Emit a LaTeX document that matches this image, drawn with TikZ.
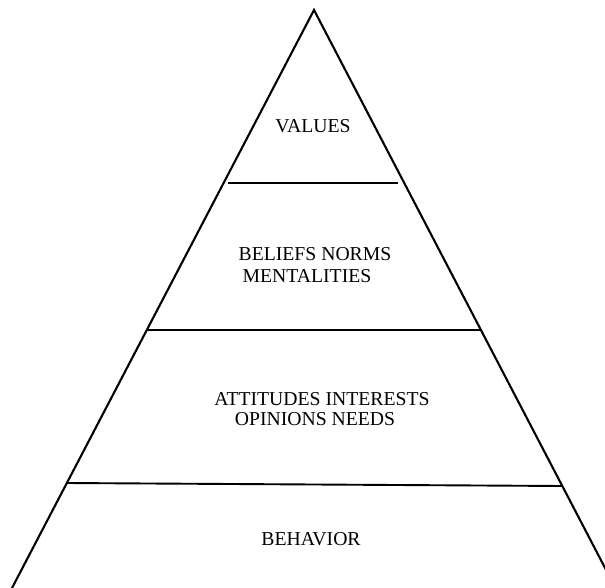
\documentclass[tikz,border=0pt]{standalone}
\usepackage{fontspec}
\setmainfont{Liberation Serif}
\begin{document}
\begin{tikzpicture}[x=1pt,y=-1pt,
  edge/.style={line width=2.1pt,line join=miter},
  level/.style={line width=1.9pt},
  lbl/.style={font=\fontsize{19.7}{22}\selectfont,anchor=base,inner sep=0pt}]
\useasboundingbox (0,0) rectangle (605,588);
\clip (0,0) rectangle (605,588);
\fill[white] (0,0) rectangle (605,588);
% triangle
\coordinate (apex) at (314,10);
\coordinate (bl) at (12,588);
\coordinate (br) at (615.5,588);
\draw[edge] (bl) -- (apex) -- (br);
% level lines
\coordinate (l1a) at (228,183);
\coordinate (l1b) at (398,183);
\coordinate (l2a) at (147,330);
\coordinate (l2b) at (480,330);
\coordinate (l3a) at (66,483);
\coordinate (l3b) at (562,486);
\draw[level] (l1a) -- (l1b);
\draw[level] (l2a) -- (l2b);
\draw[level] (l3a) -- (l3b);
% labels
\node[lbl] (values) at (313,133) {VALUES};
\node[lbl] (beliefs) at (315,260) {BELIEFS NORMS};
\node[lbl] (mentalities) at (307,282) {MENTALITIES};
\node[lbl] (attitudes) at (322,405) {ATTITUDES INTERESTS};
\node[lbl] (opinions) at (315,425) {OPINIONS NEEDS};
\node[lbl] (behavior) at (311,545) {BEHAVIOR};
\end{tikzpicture}
\end{document}
